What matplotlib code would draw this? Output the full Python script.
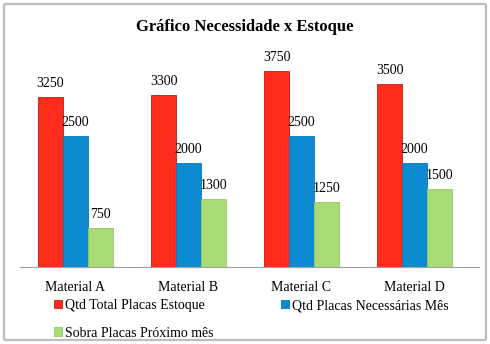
import matplotlib
matplotlib.use("Agg")
import matplotlib.pyplot as plt
import numpy as np
from matplotlib.patches import FancyBboxPatch

plt.rcParams['font.family'] = ['Liberation Serif', 'DejaVu Serif']

# -------------------------------
# Data
# -------------------------------
categories = ["Material A", "Material B", "Material C", "Material D"]
estoque = [3250, 3300, 3750, 3500]
necessarias = [2500, 2000, 2500, 2000]
sobra = [750, 1300, 1250, 1500]

series_names = ["Qtd Total Placas Estoque",
                "Qtd Placas Necessárias Mês",
                "Sobra Placas Próximo mês"]
colors = ["#FF2B1C", "#0D8BD1", "#A9DB76"]
edges = ["#B81E14", "#0A78B5", "#95C865"]

# -------------------------------
# Figure / axes
# -------------------------------
fig = plt.figure(figsize=(4.9, 3.44), dpi=100)
ax = fig.add_axes([20 / 490, 77 / 344, 459 / 490, 209 / 344])

# Outer rounded frame
frame = FancyBboxPatch((4 / 490, 4 / 344), 482 / 490, 336 / 344,
                       boxstyle="round,pad=0,rounding_size=0.004",
                       transform=fig.transFigure, facecolor="none",
                       edgecolor="#BDBDBD", linewidth=1.6)
fig.patches.append(frame)

x = np.arange(len(categories))
width = 0.221
handles = []
for i, vals in enumerate([estoque, necessarias, sobra]):
    bars = ax.bar(x + (i - 1) * width, vals, width,
                  color=colors[i], edgecolor=edges[i], linewidth=0.6,
                  label=series_names[i])
    handles.append(bars)
    for b, v in zip(bars, vals):
        ax.annotate(str(v), (b.get_x() + b.get_width() / 2, v),
                    xytext=(0, 5), textcoords="offset points",
                    ha="center", va="bottom", fontsize=10)

# category spacing ~113 px, first group centred at ~75 px
ax.set_xlim(-0.491, 3.571)
ax.set_ylim(0, 4000)
ax.set_xticks(x)
ax.set_xticklabels(categories, fontsize=10)
ax.tick_params(axis="x", length=0, pad=10)
ax.set_yticks([])
for s in ["top", "left", "right"]:
    ax.spines[s].set_visible(False)
ax.spines["bottom"].set_color("#A0A0A0")
ax.spines["bottom"].set_linewidth(0.8)
ax.set_facecolor("none")

fig.text(245 / 490, 1 - 27 / 344, "Gráfico Necessidade x Estoque",
         ha="center", va="center", fontsize=12, fontweight="bold")

# Legend: row-first order (red, blue / green)
order = [0, 2, 1]
fig.legend([handles[k] for k in order], [series_names[k] for k in order],
           ncol=2, loc="upper left", bbox_to_anchor=(54 / 490, 1 - 299 / 344),
           frameon=False, fontsize=10, handlelength=0.55, handleheight=0.55,
           handletextpad=0.25, columnspacing=4.85, labelspacing=1.05,
           borderpad=0, borderaxespad=0)

fig.savefig("out.png", dpi=100)
